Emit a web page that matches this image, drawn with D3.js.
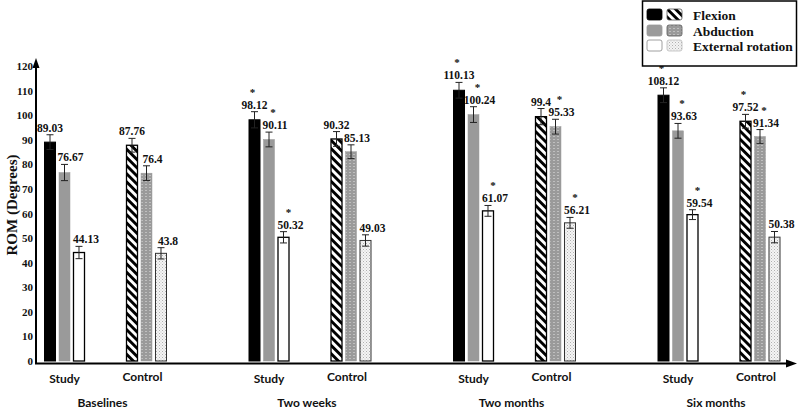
<!DOCTYPE html>
<html><head><meta charset="utf-8">
<script src="https://cdn.jsdelivr.net/npm/d3@7"></script>
<style>body{margin:0;background:#fff}svg{display:block}</style>
</head><body>
<svg id="c" width="800" height="411"></svg>
<script>
// ---- data ----
const periods = ["Baselines", "Two weeks", "Two months", "Six months"];
const groups = ["Study", "Control"];
const series = ["Flexion", "Abduction", "External rotation"];
// values ordered: [Baselines Study, Baselines Control, Two weeks Study, Two weeks Control, ...]
const flexion   = [89.03, 87.76, 98.12, 90.32, 110.13, 99.4, 108.12, 97.52];
const abduction = [76.67, 76.4, 90.11, 85.13, 100.24, 95.33, 93.63, 91.34];
const extRot    = [44.13, 43.8, 50.32, 49.03, 61.07, 56.21, 59.54, 50.38];
const flexionErr   = [3.0, 2.8, 3.3, 3.0, 3.2, 3.3, 3.0, 2.8];
const abductionErr = [3.3, 3.0, 3.0, 2.8, 3.2, 3.0, 3.0, 2.8];
const extRotErr    = [2.5, 2.3, 2.3, 2.3, 2.2, 2.2, 2.0, 2.3];
const flexionSig   = [0, 0, 1, 0, 1, 0, 1, 1];
const abductionSig = [0, 0, 1, 0, 1, 1, 1, 1];
const extRotSig    = [0, 0, 1, 0, 1, 1, 1, 0];
const yTicks = [0, 10, 20, 30, 40, 50, 60, 70, 80, 90, 100, 110, 120];
const yTitle = "ROM (Degrees)";

const svg = d3.select("#c");
const defs = svg.append("defs");
// hatch
const ph = defs.append("pattern").attr("id","hatch").attr("patternUnits","userSpaceOnUse")
  .attr("width",5.8).attr("height",10).attr("patternTransform","rotate(-45)");
ph.append("rect").attr("width",5.8).attr("height",10).attr("fill","#fff");
ph.append("rect").attr("width",2.9).attr("height",10).attr("fill","#000");
// gray dotted
const pg = defs.append("pattern").attr("id","gdot").attr("patternUnits","userSpaceOnUse")
  .attr("width",4).attr("height",3);
pg.append("rect").attr("width",4).attr("height",3).attr("fill","#9a9a9a");
pg.append("rect").attr("x",1.5).attr("y",1).attr("width",1).attr("height",1).attr("fill","#e4e4e4");
// stipple
const ps = defs.append("pattern").attr("id","stip").attr("patternUnits","userSpaceOnUse")
  .attr("width",3).attr("height",3);
ps.append("rect").attr("width",3).attr("height",3).attr("fill","#f4f4f4");
ps.append("rect").attr("x",0).attr("y",0).attr("width",1).attr("height",1).attr("fill","#b0b0b0");
ps.append("rect").attr("x",1.5).attr("y",1.5).attr("width",1).attr("height",1).attr("fill","#c4c4c4");

const styles = {
  Study: [
    {fill:"#000", stroke:"#000", sw:1},
    {fill:"#9a9a9a", stroke:"#9a9a9a", sw:0.5},
    {fill:"#fff", stroke:"#000", sw:1.3}
  ],
  Control: [
    {fill:"url(#hatch)", stroke:"#000", sw:1.3},
    {fill:"url(#gdot)", stroke:"#9a9a9a", sw:0.5},
    {fill:"url(#stip)", stroke:"#333", sw:1}
  ]
};

const y = d3.scaleLinear().domain([0,120]).range([361,66]);
const xP = d3.scalePoint().domain(periods).range([105.5, 719]);
const xG = d3.scaleBand().domain(groups).range([-82, 82]);
const xS = d3.scaleBand().domain(series).range([-20.5, 20.5]).paddingInner(0.172);

const vals = [flexion, abduction, extRot];
const errs = [flexionErr, abductionErr, extRotErr];
const sigs = [flexionSig, abductionSig, extRotSig];
const labelDx = [0, 6, 7];

const data = [];
periods.forEach((p, pi) => groups.forEach((g, gi) => series.forEach((s, si) => {
  const k = pi*2 + gi;
  data.push({p, g, s, si, v: vals[si][k], e: errs[si][k], sig: sigs[si][k]});
})));
const cx = d => xP(d.p) + xG(d.g) + xG.bandwidth()/2 + xS(d.s) + xS.bandwidth()/2;

const gB = svg.append("g");
gB.selectAll("rect").data(data).join("rect")
  .attr("x", d => cx(d) - xS.bandwidth()/2 + 0.5)
  .attr("width", xS.bandwidth() - 1)
  .attr("y", d => y(d.v))
  .attr("height", d => y(0) - y(d.v))
  .attr("fill", d => styles[d.g][d.si].fill)
  .attr("stroke", d => styles[d.g][d.si].stroke)
  .attr("stroke-width", d => styles[d.g][d.si].sw);

// error bars
const gE = svg.append("g").attr("stroke","#222").attr("stroke-width",1).attr("fill","none");
data.forEach(d => {
  const x = cx(d);
  gE.append("line").attr("x1",x).attr("x2",x).attr("y1",y(d.v+d.e)).attr("y2",y(d.v-d.e));
  gE.append("line").attr("x1",x-3.5).attr("x2",x+3.5).attr("y1",y(d.v+d.e)).attr("y2",y(d.v+d.e));
  gE.append("line").attr("x1",x-3.5).attr("x2",x+3.5).attr("y1",y(d.v-d.e)).attr("y2",y(d.v-d.e));
});

// value labels
const serif = "'Liberation Serif','Times New Roman',serif";
const gL = svg.append("g").attr("font-family", serif).attr("font-weight","bold")
  .attr("text-anchor","middle").attr("fill","#111");
data.forEach(d => {
  const x = cx(d) + labelDx[d.si];
  const yb = y(d.v + d.e) - 3;
  gL.append("text").attr("x", x).attr("y", yb).attr("font-size", 11.5).text(d.v);
  if (d.sig) gL.append("text").attr("x", x - 2).attr("y", yb - 13).attr("font-size", 11).text("*");
});

// axes
const ax = svg.append("g");
ax.append("line").attr("x1",36).attr("x2",36).attr("y1",364).attr("y2",66).attr("stroke","#000").attr("stroke-width",2);
ax.append("path").attr("d","M36,58 L32.5,68 L39.5,68 Z").attr("fill","#000");
ax.append("line").attr("x1",35).attr("x2",788).attr("y1",363.5).attr("y2",363.5).attr("stroke","#000").attr("stroke-width",2);
ax.append("path").attr("d","M797,363.5 L786,359.5 L786,367.5 Z").attr("fill","#000");

const yAxis = d3.axisLeft(y).tickValues(yTicks).tickSize(0).tickPadding(3);
const gy = svg.append("g").attr("transform","translate(36,0)").call(yAxis);
gy.select(".domain").remove();
gy.selectAll("text").attr("font-family", serif).attr("font-weight","bold").attr("font-size",11).attr("fill","#111");

svg.append("text").attr("transform","translate(17,205) rotate(-90)")
  .attr("text-anchor","middle").attr("font-family",serif).attr("font-weight","bold")
  .attr("font-size",15).attr("fill","#111").text(yTitle);

// category labels
const sans = "Lato, 'Open Sans', sans-serif";
const gC = svg.append("g").attr("font-family", sans).attr("font-weight","bold")
  .attr("font-size",12).attr("text-anchor","middle").attr("fill","#111");
periods.forEach(p => {
  groups.forEach(g => {
    const x = xP(p) + xG(g) + xG.bandwidth()/2 + (g === "Control" ? -4 : 0);
    gC.append("text").attr("x", x).attr("y", g === "Study" ? 383 : 381).text(g);
  });
  gC.append("text").attr("x", xP(p) - 3).attr("y", 407).text(p);
});

// legend
const lg = svg.append("g");
lg.append("rect").attr("x",642.5).attr("y",1).attr("width",154).attr("height",65)
  .attr("fill","#fff").attr("stroke","#000").attr("stroke-width",1.5);
const legendRows = [9, 25, 40];
series.forEach((s, i) => {
  lg.append("rect").attr("x",647).attr("y",legendRows[i]).attr("width",15).attr("height",11).attr("rx",2)
    .attr("fill", styles.Study[i].fill).attr("stroke", i===2 ? "#888" : styles.Study[i].stroke).attr("stroke-width",0.8);
  lg.append("rect").attr("x",667).attr("y",legendRows[i]).attr("width",15).attr("height",11).attr("rx",2)
    .attr("fill", styles.Control[i].fill).attr("stroke", i===2 ? "#bbb" : "#555").attr("stroke-width",0.8);
  lg.append("text").attr("x",693).attr("y",legendRows[i]+10.5).attr("font-family",serif)
    .attr("font-weight","bold").attr("font-size",13.5).attr("fill","#111").text(s);
});
</script>
</body></html>
